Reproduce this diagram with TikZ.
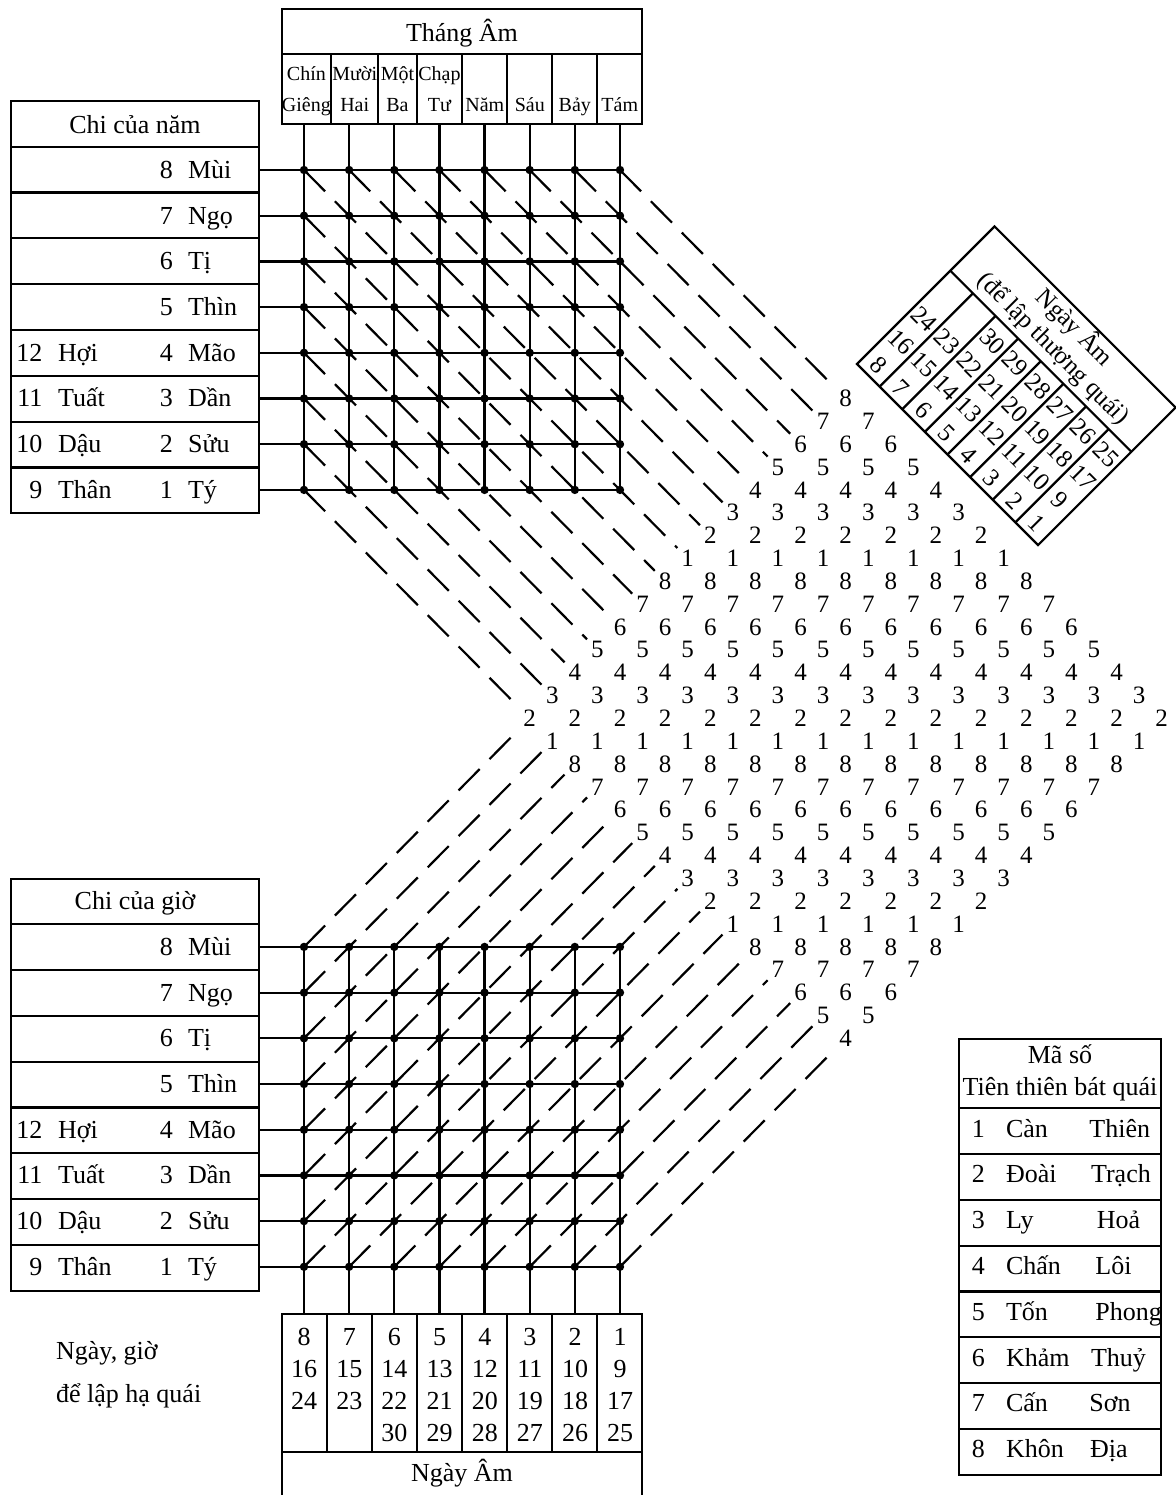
\documentclass[tikz,border=0pt]{standalone}
\usepackage{fontspec}
\setmainfont{Liberation Serif}
\begin{document}
\begin{tikzpicture}[x=0.5pt,y=-0.5pt,line width=1.1pt,
  big/.style={font=\fontsize{13}{15}\selectfont,inner sep=0pt},
  small/.style={font=\fontsize{10}{12}\selectfont,inner sep=0pt},
  latnum/.style={font=\fontsize{12.5}{15}\selectfont,inner sep=1.5pt},
  gdot/.style={circle,fill,inner sep=0pt,minimum size=4.2pt},
  dl/.style={dash pattern=on 15pt off 7pt}]
\useasboundingbox (0,0) rectangle (1176,1495);

% ---------- coordinates of the two grids ----------
\foreach \c in {1,...,8}{
 \foreach \r in {1,...,8}{
  \coordinate (u-\c-\r) at ({304+(\c-1)*45.14},{170+(8-\r)*45.7});
  \coordinate (l-\c-\r) at ({304+(\c-1)*45.14},{946.9+(8-\r)*45.7});
 }
 \coordinate (mt-\c) at ({304+(\c-1)*45.14},124.3);
 \coordinate (mb-\c) at ({304+(\c-1)*45.14},1314);
}
\foreach \r in {1,...,8}{
 \coordinate (yl-\r) at (259,{170+(8-\r)*45.7});
 \coordinate (hl-\r) at (259,{946.9+(8-\r)*45.7});
}

% ---------- lattice of numbers ----------
\foreach \i in {0,...,14}{
 \foreach \j in {0,...,14}{
  \pgfmathtruncatemacro\v{8-mod(\i+\j,8)}
  \node[latnum] (n-\i-\j) at ({845.7+(\j-\i)*22.57},{398.5+(\i+\j)*22.85}) {\v};
 }
}

% ---------- grid lines ----------
\foreach \r in {1,...,8}{
 \draw (yl-\r) -- (u-8-\r);
 \draw (hl-\r) -- (l-8-\r);
}
\foreach \c in {1,...,8}{
 \draw (mt-\c) -- (u-\c-1);
 \draw (l-\c-8) -- (mb-\c);
}

% ---------- dashed diagonals, upper ----------
\foreach \s in {2,...,16}{
 \pgfmathtruncatemacro\ii{16-\s}
 \ifnum\s<10
  \pgfmathtruncatemacro\rr{\s-1}
  \draw[dl] (u-1-\rr) -- (n-\ii-0);
 \else
  \pgfmathtruncatemacro\cc{\s-8}
  \draw[dl] (u-\cc-8) -- (n-\ii-0);
 \fi
}
% ---------- dashed diagonals, lower ----------
\foreach \d in {-7,...,7}{
 \pgfmathtruncatemacro\jj{\d+7}
 \ifnum\d<0
  \pgfmathtruncatemacro\rr{1-\d}
  \draw[dl] (l-1-\rr) -- (n-14-\jj);
 \else
  \pgfmathtruncatemacro\cc{\d+1}
  \draw[dl] (l-\cc-1) -- (n-14-\jj);
 \fi
}

% ---------- dots ----------
\foreach \c in {1,...,8}{
 \foreach \r in {1,...,8}{
  \node[gdot] (pu-\c-\r) at (u-\c-\r) {};
  \node[gdot] (pl-\c-\r) at (l-\c-\r) {};
 }
}

% ---------- month box (top) ----------
\draw (281.7,9.3) rectangle (642.3,124.3);
\draw (281.7,54.3) -- (642.3,54.3);
\foreach \x in {331,378.3,416.7,462.3,507.3,552.3,597.3}
 \draw (\x,54.3) -- (\x,124.3);
\node[big,anchor=base] (thang) at (462,41.7) {Tháng Âm};
\node[small,anchor=base] (m1a) at (306.4,80) {Chín};
\node[small,anchor=base] (m1b) at (306.4,111.7) {Giêng};
\node[small,anchor=base] (m2a) at (354.7,80) {Mười};
\node[small,anchor=base] (m2b) at (354.7,111.7) {Hai};
\node[small,anchor=base] (m3a) at (397.5,80) {Một};
\node[small,anchor=base] (m3b) at (397.5,111.7) {Ba};
\node[small,anchor=base] (m4a) at (439.5,80) {Chạp};
\node[small,anchor=base] (m4b) at (439.5,111.7) {Tư};
\node[small,anchor=base] (m5) at (484.8,111.7) {Năm};
\node[small,anchor=base] (m6) at (529.8,111.7) {Sáu};
\node[small,anchor=base] (m7) at (574.8,111.7) {Bảy};
\node[small,anchor=base] (m8) at (619.8,111.7) {Tám};

% ---------- year box ----------
\draw (11,101) rectangle (259,513.3);
\foreach \k in {0,...,7}
 \draw (11,{146.7+\k*45.83}) -- (259,{146.7+\k*45.83});
\node[big,anchor=base] (yh) at (135,133.5) {Chi của năm};
% ---------- hour box ----------
\draw (11,879) rectangle (259,1290.7);
\foreach \k in {0,...,7}
 \draw (11,{924.3+\k*45.8}) -- (259,{924.3+\k*45.8});
\node[big,anchor=base] (hh) at (135,909) {Chi của giờ};

\foreach \r/\nm in {8/Mùi,7/Ngọ,6/Tị,5/Thìn,4/Mão,3/Dần,2/Sửu,1/Tý}{
 \node[big,anchor=base east] (yn-\r) at (174,{178.4+(8-\r)*45.7}) {\r};
 \node[big,anchor=base west] (yt-\r) at (187,{178.4+(8-\r)*45.7}) {\nm};
 \node[big,anchor=base east] (hn-\r) at (174,{955.3+(8-\r)*45.7}) {\r};
 \node[big,anchor=base west] (ht-\r) at (187,{955.3+(8-\r)*45.7}) {\nm};
}
\foreach \r/\n/\nm in {4/12/Hợi,3/11/Tuất,2/10/Dậu,1/9/Thân}{
 \node[big,anchor=base east] (yn2-\r) at (43.5,{178.4+(8-\r)*45.7}) {\n};
 \node[big,anchor=base west] (yt2-\r) at (57,{178.4+(8-\r)*45.7}) {\nm};
 \node[big,anchor=base east] (hn2-\r) at (43.5,{955.3+(8-\r)*45.7}) {\n};
 \node[big,anchor=base west] (ht2-\r) at (57,{955.3+(8-\r)*45.7}) {\nm};
}

% ---------- day box (bottom) ----------
\draw (281.7,1497) -- (281.7,1314) -- (642.3,1314) -- (642.3,1497);
\draw (281.7,1451.7) -- (642.3,1451.7);
\foreach \x in {326.7,371.7,416.7,462.3,507.3,552.3,597.3}
 \draw (\x,1314) -- (\x,1451.7);
\foreach \k in {1,...,8}{
 \pgfmathtruncatemacro\m{9-\k}
 \pgfmathtruncatemacro\mb{\m+8}
 \pgfmathtruncatemacro\mc{\m+16}
 \pgfmathtruncatemacro\md{\m+24}
 \pgfmathsetmacro\xx{304.2+(\k-1)*45.14}
 \node[big,anchor=base] (bd-\k-1) at (\xx,1345) {\m};
 \node[big,anchor=base] (bd-\k-2) at (\xx,1377) {\mb};
 \node[big,anchor=base] (bd-\k-3) at (\xx,1409) {\mc};
 \ifnum\md<31
  \node[big,anchor=base] (bd-\k-4) at (\xx,1441.5) {\md};
 \fi
}
\node[big,anchor=base] (bdh) at (462,1481.5) {Ngày Âm};

% ---------- rotated day box (upper right) ----------
\begin{scope}[shift={(857,364)},rotate=-45,transform shape]
 \draw (0,0) rectangle (256,-194.5);
 \draw (0,-132) -- (256,-132);
 \foreach \k in {1,...,7}
  \draw ({32*\k},0) -- ({32*\k},-132);
 \foreach \k in {1,...,8}{
  \pgfmathtruncatemacro\m{9-\k}
  \pgfmathtruncatemacro\mb{\m+8}
  \pgfmathtruncatemacro\mc{\m+16}
  \pgfmathtruncatemacro\md{\m+24}
  \node[latnum,inner sep=0pt] (rd-\k-1) at ({32*\k-16},-14.5) {\m};
  \node[latnum,inner sep=0pt] (rd-\k-2) at ({32*\k-16},-47) {\mb};
  \node[latnum,inner sep=0pt] (rd-\k-3) at ({32*\k-16},-79.5) {\mc};
  \ifnum\md<31
   \node[latnum,inner sep=0pt] (rd-\k-4) at ({32*\k-16},-112) {\md};
  \fi
 }
 \node[latnum,inner sep=0pt] (rdh1) at (128,-180) {Ngày Âm};
 \node[latnum,inner sep=0pt] (rdh2) at (128,-149) {(để lập thượng quái)};
\end{scope}

% ---------- note ----------
\node[big,anchor=base west] (note1) at (55,1359) {Ngày, giờ};
\node[big,anchor=base west] (note2) at (55,1402) {để lập hạ quái};

% ---------- legend ----------
\draw (959,1039.3) rectangle (1161,1474.7);
\foreach \k in {0,...,7}
 \draw (959,{1108.3+\k*45.8}) -- (1161,{1108.3+\k*45.8});
\node[big,anchor=base] (lg1) at (1060,1063) {Mã số};
\node[big,anchor=base] (lg2) at (1060,1095) {Tiên thiên bát quái};
\foreach \k/\a/\b/\xb in {1/Càn/Thiên/1088.3,2/Đoài/Trạch/1090,3/Ly/Hoả/1095.7,4/Chấn/Lôi/1094.3,5/Tốn/Phong/1094.3,6/Khảm/Thuỷ/1090,7/Cấn/Sơn/1088.3,8/Khôn/Địa/1089}{
 \node[big,anchor=base] (lgn-\k) at (978.3,{1137+(\k-1)*45.8}) {\k};
 \node[big,anchor=base west] (lga-\k) at (1005,{1137+(\k-1)*45.8}) {\a};
 \node[big,anchor=base west] (lgb-\k) at (\xb,{1137+(\k-1)*45.8}) {\b};
}
\end{tikzpicture}
\end{document}
